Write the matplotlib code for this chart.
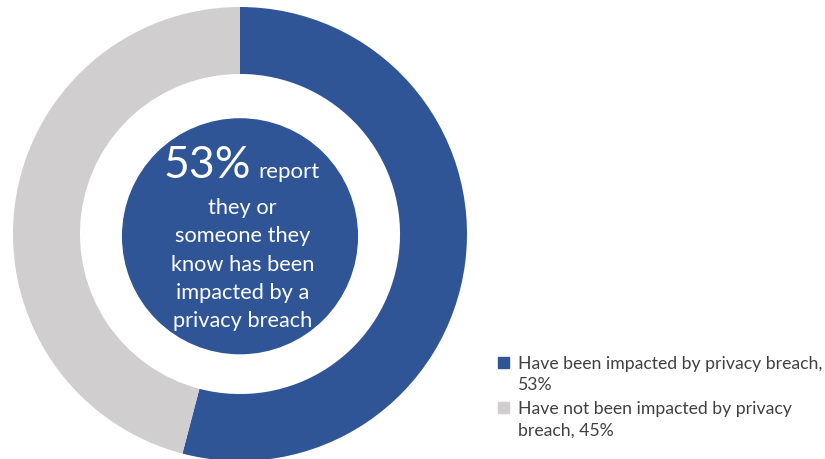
import textwrap
import matplotlib.pyplot as plt
from matplotlib.patches import Circle, Rectangle

plt.rcParams['font.family'] = ['Lato', 'DejaVu Sans']

# survey split
categories = ['Have been impacted by privacy breach',
              'Have not been impacted by privacy breach']
values = [53, 45]
colors = ['#2F5597', '#D0CECE']
center_text = 'they or\nsomeone they\nknow has been\nimpacted by a\nprivacy breach'

W, H = 825, 460
fig = plt.figure(figsize=(W / 100, H / 100), dpi=100)

# donut axes: centre (240, 235) px, radius 227 px
cx, cy, r = 240, 235, 227
ax = fig.add_axes([(cx - r) / W, (H - cy - r) / H, 2 * r / W, 2 * r / H])
ax.pie(values, colors=colors, startangle=90, counterclock=False,
       radius=1, wedgeprops=dict(width=0.295, edgecolor='none'))
ax.add_patch(Circle((0, -0.01), 0.517, color=colors[0], zorder=3))
ax.set_xlim(-1, 1)
ax.set_ylim(-1, 1)
ax.set_aspect('equal')
ax.axis('off')

# centre caption
ax.text(0.05, 0.251, f'{values[0]}%', color='white', fontsize=32,
        ha='right', va='baseline', zorder=4)
ax.text(0.08, 0.251, 'report', color='white', fontsize=16,
        ha='left', va='baseline', zorder=4)
ax.text(0.01, -0.13, center_text, color='white', fontsize=15.7,
        ha='center', va='center', linespacing=1.52, zorder=4)

# legend drawn by hand
for i, (cat, v, c) in enumerate(zip(categories, values, colors)):
    top = 358 + i * 45
    fig.patches.append(Rectangle((498 / W, 1 - (top + 11) / H), 11 / W, 11 / H,
                                 transform=fig.transFigure, color=c))
    fig.text(518 / W, 1 - (top - 2) / H, textwrap.fill(f'{cat}, {v}%', 37),
             fontsize=12.7, color='#404040', ha='left', va='top',
             linespacing=1.4)

fig.savefig('out.png', dpi=100)
